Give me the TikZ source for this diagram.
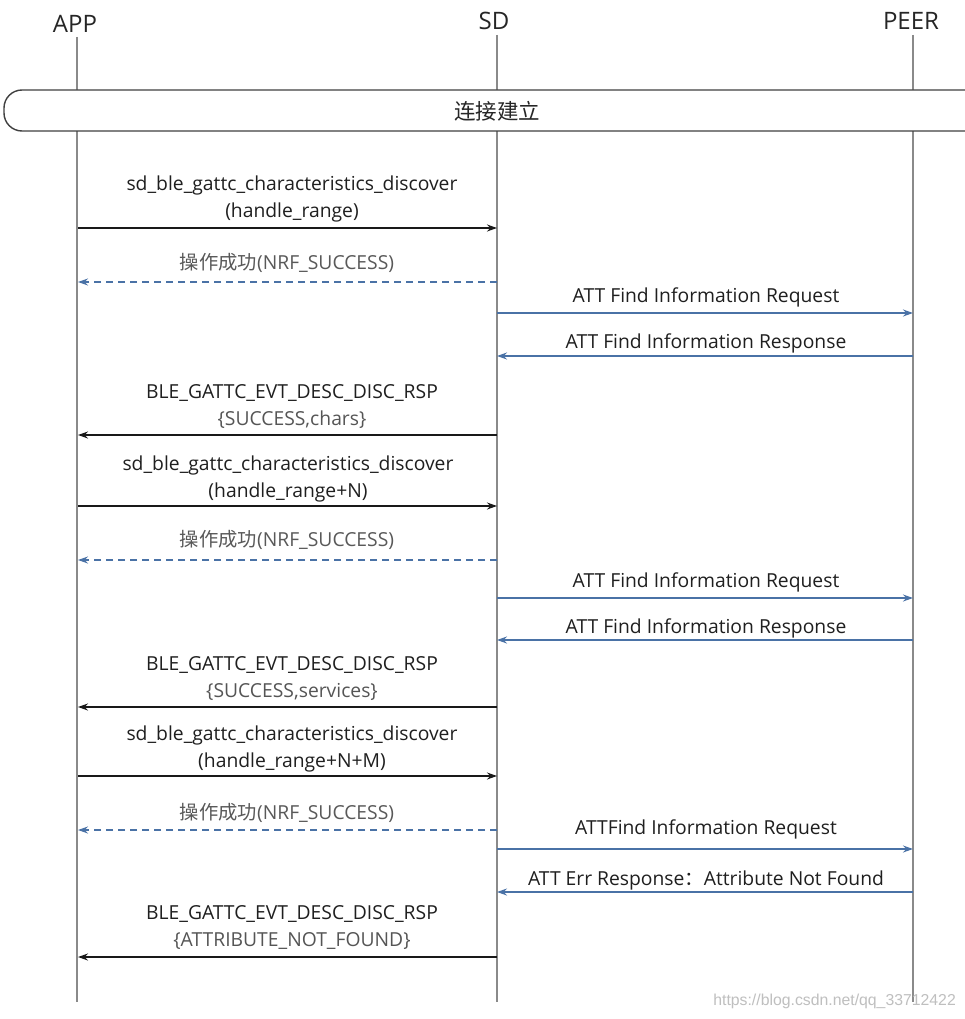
\documentclass[tikz,border=0pt]{standalone}
\usepackage{fontspec}
\setmainfont{Open Sans}
\newfontfamily\cjk{Noto Sans CJK SC}
\newfontfamily\wmfont{Liberation Sans}
\usetikzlibrary{arrows.meta}
\definecolor{msgblue}{HTML}{4A72A6}
\definecolor{lifegray}{HTML}{8A8A8A}
\definecolor{subgray}{HTML}{555555}
\tikzset{
  x=1pt, y=-1pt,
  lifeline/.style={draw=lifegray, line width=1.1pt},
  head/.style={font=\fontsize{24}{26}\selectfont, text=black!85, inner sep=0pt},
  callmsg/.style={draw=black!90, line width=1.3pt, -{Stealth[length=10pt,width=7pt]}},
  retmsg/.style={draw=msgblue, line width=1.3pt, dash pattern=on 7pt off 5pt, -{Stealth[length=10pt,width=7pt]}},
  peermsg/.style={draw=msgblue, line width=1.3pt, -{Stealth[length=10pt,width=7pt]}},
  lbl/.style={font=\fontsize{19.3}{21}\selectfont, text=black!88, inner sep=0pt},
  sublbl/.style={font=\fontsize{19.3}{21}\selectfont, text=subgray, inner sep=0pt},
  retlbl/.style={font=\fontsize{19.3}{21}\selectfont, text=black!65, inner sep=0pt},
}
\begin{document}
\begin{tikzpicture}
\clip (0,0) rectangle (965,1019);
\fill[white] (0,0) rectangle (965,1019);
% heads
\node[head] (app) at (75,24) {APP};
\node[head] (sd) at (494,21) {SD};
\node[head] (peer) at (911,21) {PEER};
\coordinate (append) at (77,1002);
\coordinate (sdend) at (497,1002);
\coordinate (peerend) at (913,1002);
\draw[lifeline] (77,37) -- (append);
\draw[lifeline] (497,35) -- (sdend);
\draw[lifeline] (913,35) -- (peerend);
% connection established box
\draw[fill=white, draw=black!75, line width=1.4pt, rounded corners=18pt] (4,90) rectangle (990,131);
\node[font=\cjk\fontsize{21.5}{23}\selectfont, text=black!85] (conn) at (497,111) {连接建立};
% coordinates on lifelines
\foreach \n/\y in {1/228,2/282,3/313,4/356,5/435,6/506,7/560,8/598,9/640,10/707,11/776,12/830,13/849,14/892,15/957}{
  \coordinate (a\n) at (78,\y);
  \coordinate (s\n) at (497,\y);
  \coordinate (p\n) at (913,\y);
}
% 1
\node[lbl] (l1a) at (292,185) {sd\_ble\_gattc\_characteristics\_discover};
\node[lbl] (l1b) at (292,212) {(handle\_range)};
\draw[callmsg] (a1) -- (s1);
% 2
\node[retlbl] (l2) at (287,263) {{\cjk 操作成功}(NRF\_SUCCESS)};
\draw[retmsg] (s2) -- (a2);
% 3
\node[lbl] (l3) at (706,297) {ATT Find Information Request};
\draw[peermsg] (s3) -- (p3);
% 4
\node[lbl] (l4) at (706,343) {ATT Find Information Response};
\draw[peermsg] (p4) -- (s4);
% 5
\node[lbl] (l5a) at (292,393) {BLE\_GATTC\_EVT\_DESC\_DISC\_RSP};
\node[sublbl] (l5b) at (292,420) {\{SUCCESS,chars\}};
\draw[callmsg] (s5) -- (a5);
% 6
\node[lbl] (l6a) at (288,465) {sd\_ble\_gattc\_characteristics\_discover};
\node[lbl] (l6b) at (288,492) {(handle\_range+N)};
\draw[callmsg] (a6) -- (s6);
% 7
\node[retlbl] (l7) at (287,540) {{\cjk 操作成功}(NRF\_SUCCESS)};
\draw[retmsg] (s7) -- (a7);
% 8
\node[lbl] (l8) at (706,582) {ATT Find Information Request};
\draw[peermsg] (s8) -- (p8);
% 9
\node[lbl] (l9) at (706,628) {ATT Find Information Response};
\draw[peermsg] (p9) -- (s9);
% 10
\node[lbl] (l10a) at (292,665) {BLE\_GATTC\_EVT\_DESC\_DISC\_RSP};
\node[sublbl] (l10b) at (292,692) {\{SUCCESS,services\}};
\draw[callmsg] (s10) -- (a10);
% 11
\node[lbl] (l11a) at (292,735) {sd\_ble\_gattc\_characteristics\_discover};
\node[lbl] (l11b) at (292,762) {(handle\_range+N+M)};
\draw[callmsg] (a11) -- (s11);
% 12
\node[retlbl] (l12) at (287,813) {{\cjk 操作成功}(NRF\_SUCCESS)};
\draw[retmsg] (s12) -- (a12);
% 13
\node[lbl] (l13) at (706,829) {ATTFind Information Request};
\draw[peermsg] (s13) -- (p13);
% 14
\node[lbl] (l14) at (706,880) {ATT Err Response{\cjk ：}Attribute Not Found};
\draw[peermsg] (p14) -- (s14);
% 15
\node[lbl] (l15a) at (292,914) {BLE\_GATTC\_EVT\_DESC\_DISC\_RSP};
\node[sublbl] (l15b) at (292,941) {\{ATTRIBUTE\_NOT\_FOUND\}};
\draw[callmsg] (s15) -- (a15);
% watermark
\node[font=\wmfont\fontsize{15.8}{17}\selectfont, text=black!25, anchor=east, inner sep=0pt] (wm) at (956,1001) {https://blog.csdn.net/qq\_33712422};
\end{tikzpicture}
\end{document}
